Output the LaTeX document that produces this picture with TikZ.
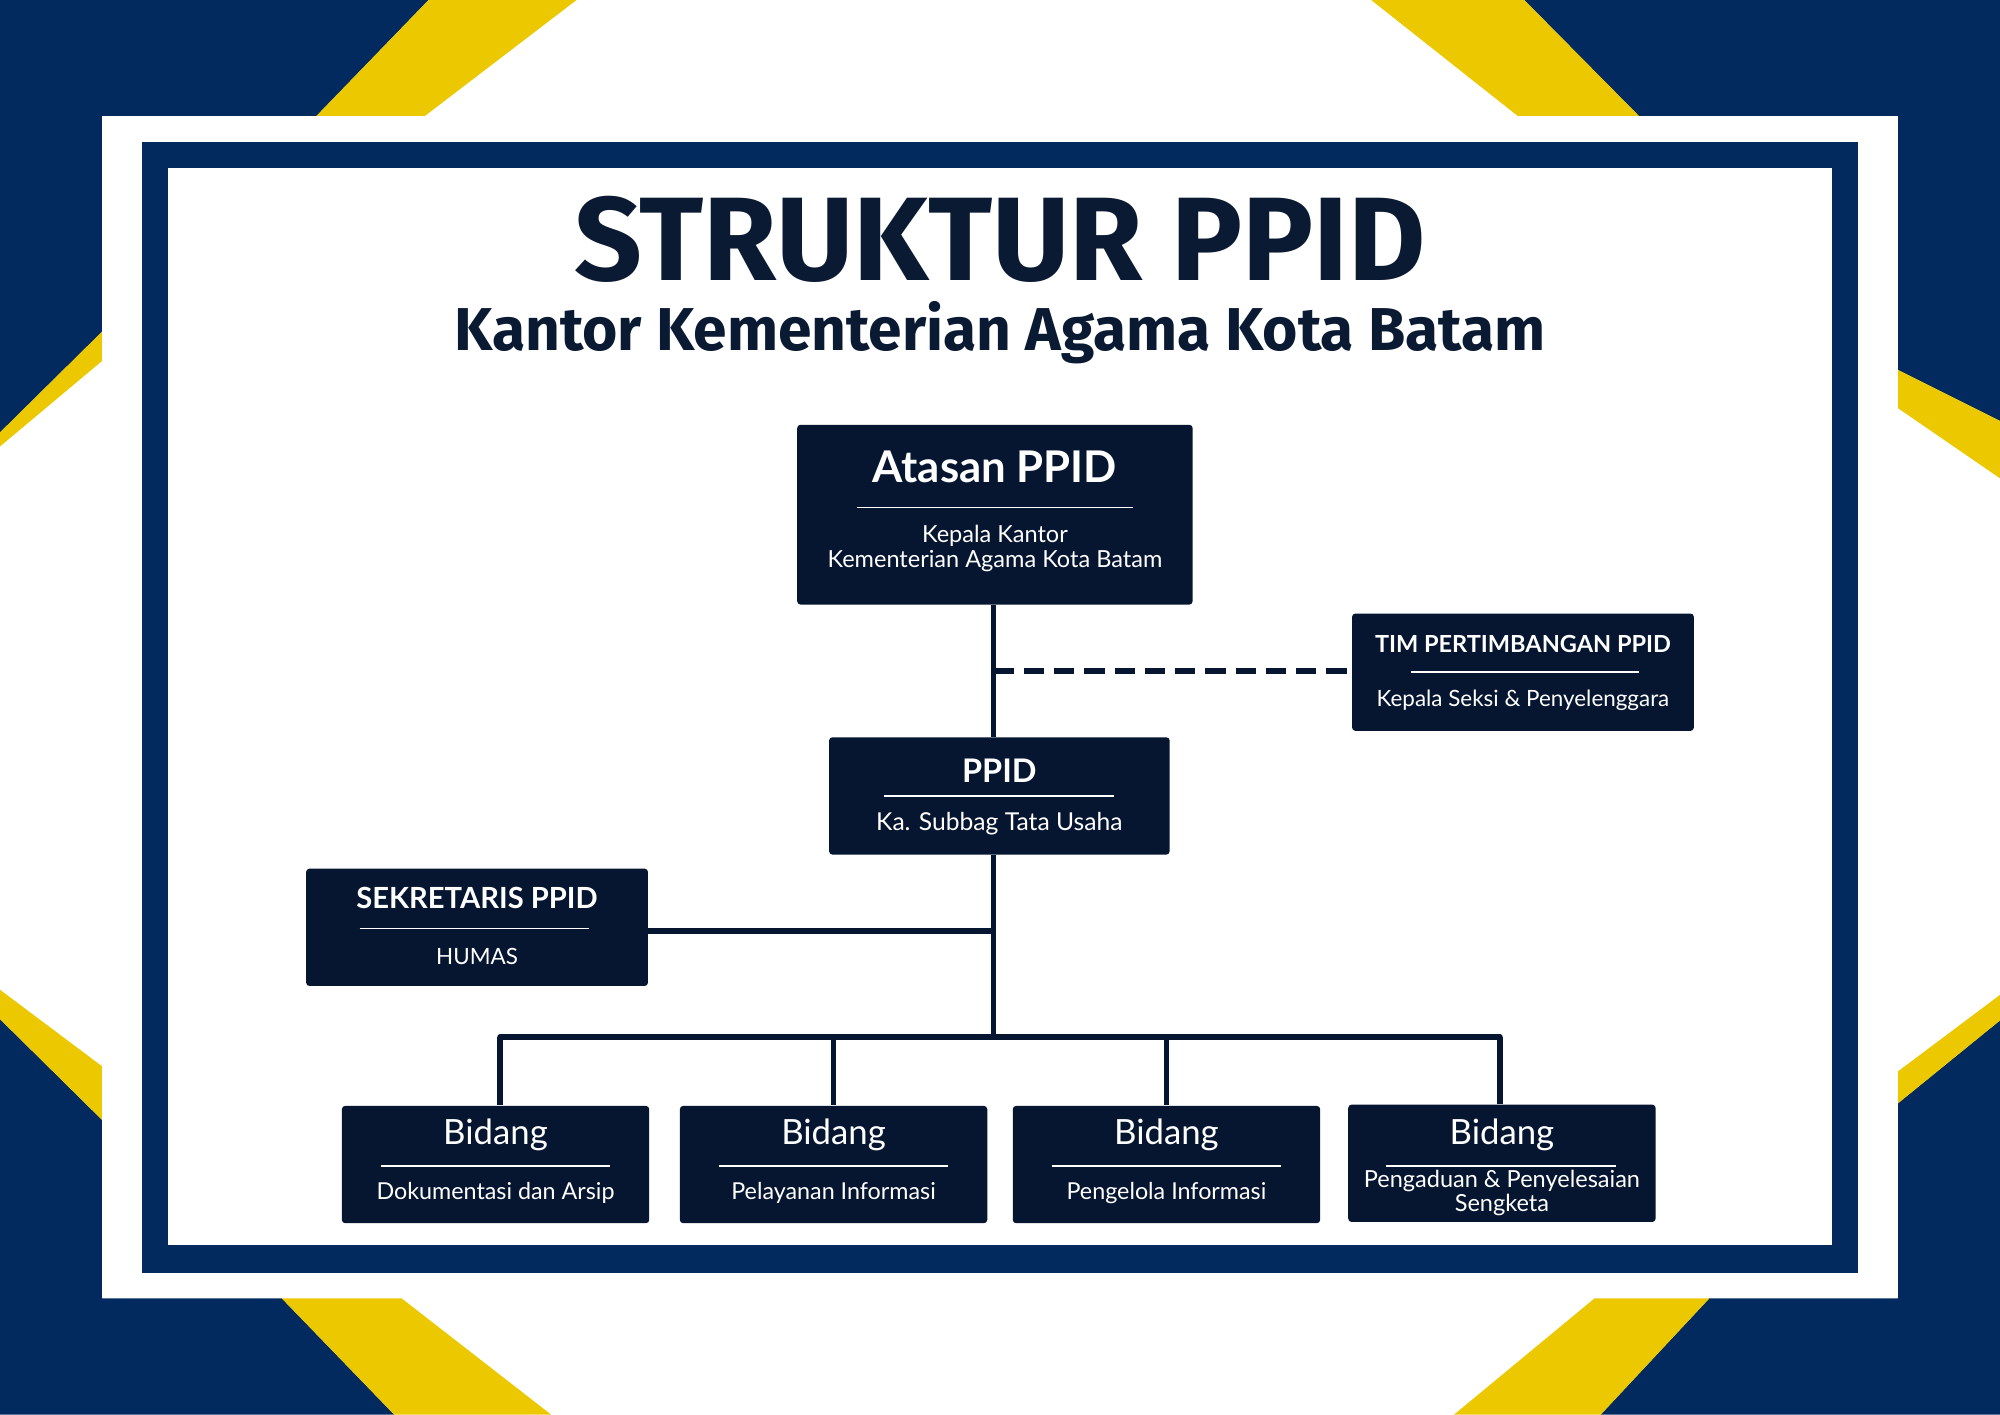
\documentclass[tikz,border=0pt]{standalone}
\usepackage{fontspec}
\setmainfont{Lato}
\newfontfamily\titlefont{Fira Sans}
\definecolor{navy}{HTML}{032A5F}
\definecolor{boxc}{HTML}{061631}
\definecolor{ylw}{HTML}{EBC800}
\definecolor{ttl}{HTML}{0B1A33}
\begin{document}
\begin{tikzpicture}[x=0.02cm,y=-0.02cm,
  box/.style={fill=boxc,rounded corners=1.5pt,inner sep=0pt,draw=none},
  hd/.style={text=white,font=\bfseries\fontsize{14}{16}\selectfont},
  sub/.style={text=white,font=\fontsize{10.5}{11}\selectfont,align=center},
  bid/.style={text=white,font=\fontsize{15.5}{18}\selectfont},
  rule/.style={white,line width=0.7pt},
  conn/.style={boxc,line width=2.4pt},
  dconn/.style={boxc,line width=2.4pt,dash pattern=on 9pt off 4.5pt}]
\useasboundingbox (0,0) rectangle (1568,1109);
% background corners
\fill[navy] (0,0)--(336,0)--(248,91)--(80,91)--(80,260)--(0,339)--cycle;
\fill[ylw] (336,0)--(452,0)--(333,91)--(248,91)--cycle;
\fill[ylw] (80,260)--(80,283)--(0,350)--(0,339)--cycle;
\fill[navy] (1195,0)--(1568,0)--(1568,330)--(1488,290)--(1488,91)--(1285,91)--cycle;
\fill[ylw] (1075,0)--(1195,0)--(1285,91)--(1190,91)--cycle;
\fill[ylw] (1488,290)--(1568,330)--(1568,375)--(1488,320)--cycle;
\fill[navy] (0,799)--(80,878)--(80,1018)--(221,1018)--(309,1109)--(0,1109)--cycle;
\fill[ylw] (0,776)--(80,836)--(80,878)--(0,799)--cycle;
\fill[ylw] (221,1018)--(315,1018)--(432,1109)--(309,1109)--cycle;
\fill[navy] (1568,800)--(1488,865)--(1488,1018)--(1340,1018)--(1255,1109)--(1568,1109)--cycle;
\fill[ylw] (1568,780)--(1488,840)--(1488,865)--(1568,800)--cycle;
\fill[ylw] (1250,1018)--(1340,1018)--(1255,1109)--(1140,1109)--cycle;
% frame
\fill[white] (80,91) rectangle (1488,1018);
\fill[navy] (111,111) rectangle (1457,998);
\fill[white] (132,132) rectangle (1436,976);
% title
\node[inner sep=0pt,text=ttl,font=\titlefont\bfseries\fontsize{53}{56}\selectfont] (title) at (784,188) {STRUKTUR PPID};
\node[inner sep=0pt,text=ttl,font=\titlefont\bfseries\fontsize{27}{30}\selectfont] (subtitle) at (784,261) {Kantor Kementerian Agama Kota Batam};
% boxes
\node[box,minimum width=310*0.02cm,minimum height=141*0.02cm] (atasan) at (780,403.5) {};
\node[hd,font=\bfseries\fontsize{19.5}{22}\selectfont] (atasanT) at (780,366) {Atasan PPID};
\draw[rule] (672,398) -- (888,398);
\node[sub] (atasanS) at (780,430) {Kepala Kantor\\Kementerian Agama Kota Batam};

\node[box,minimum width=268*0.02cm,minimum height=92*0.02cm] (tim) at (1194,527) {};
\node[hd,font=\bfseries\fontsize{10.5}{12}\selectfont] (timT) at (1194,505) {TIM PERTIMBANGAN PPID};
\draw[rule] (1106,527) -- (1285,527);
\node[sub,font=\fontsize{10}{11}\selectfont] (timS) at (1194,549) {Kepala Seksi \& Penyelenggara};

\node[box,minimum width=267*0.02cm,minimum height=92*0.02cm] (ppid) at (783.5,624) {};
\node[hd,font=\bfseries\fontsize{14.5}{17}\selectfont] (ppidT) at (783.5,604) {PPID};
\draw[rule] (693,624) -- (873,624);
\node[sub,font=\fontsize{11}{12}\selectfont] (ppidS) at (783.5,646) {Ka. Subbag Tata Usaha};

\node[box,minimum width=268*0.02cm,minimum height=92*0.02cm] (sek) at (374,727) {};
\node[hd,font=\bfseries\fontsize{13}{15}\selectfont] (sekT) at (374,704) {SEKRETARIS PPID};
\draw[rule] (282,728) -- (462,728);
\node[sub,font=\fontsize{10}{11}\selectfont] (sekS) at (374,750) {HUMAS};

\foreach \n/\x/\t in {b1/388.5/Dokumentasi dan Arsip, b2/653.5/Pelayanan Informasi, b3/914.5/Pengelola Informasi}{
  \node[box,minimum width=241*0.02cm,minimum height=92*0.02cm] (\n) at (\x,913) {};
  \node[bid] (\n T) at (\x,890) {Bidang};
  \draw[rule] (\x-90,914) -- (\x+90,914);
  \node[sub,font=\fontsize{10.4}{12}\selectfont] (\n S) at (\x,935) {\t};
}
\node[box,minimum width=241*0.02cm,minimum height=92*0.02cm] (b4) at (1177.5,912) {};
\node[bid] (b4T) at (1177.5,890) {Bidang};
\draw[rule] (1087,914) -- (1267,914);
\node[sub,font=\fontsize{10.5}{9}\selectfont] (b4S) at (1177.5,935) {Pengaduan \& Penyelesaian\\Sengketa};
% connectors
\coordinate (bus) at (779,813);
\coordinate (busL) at (392,813);
\coordinate (busR) at (1176,813);
\coordinate (jd) at (779,526);
\coordinate (js) at (779,730);
\draw[conn] (atasan.south -| bus) -- (ppid.north -| bus);
\draw[dconn] (jd) -- (tim.west |- jd);
\draw[conn] (ppid.south -| bus) -- (bus);
\draw[conn] (sek.east |- js) -- (js);
\draw[conn,line cap=round] (busL) -- (busR);
\draw[conn] (busL) -- (b1.north -| busL);
\draw[conn] (bus -| b2.north) -- (b2.north);
\draw[conn] (bus -| b3.north) -- (b3.north);
\draw[conn] (busR) -- (b4.north -| busR);
\end{tikzpicture}
\end{document}
